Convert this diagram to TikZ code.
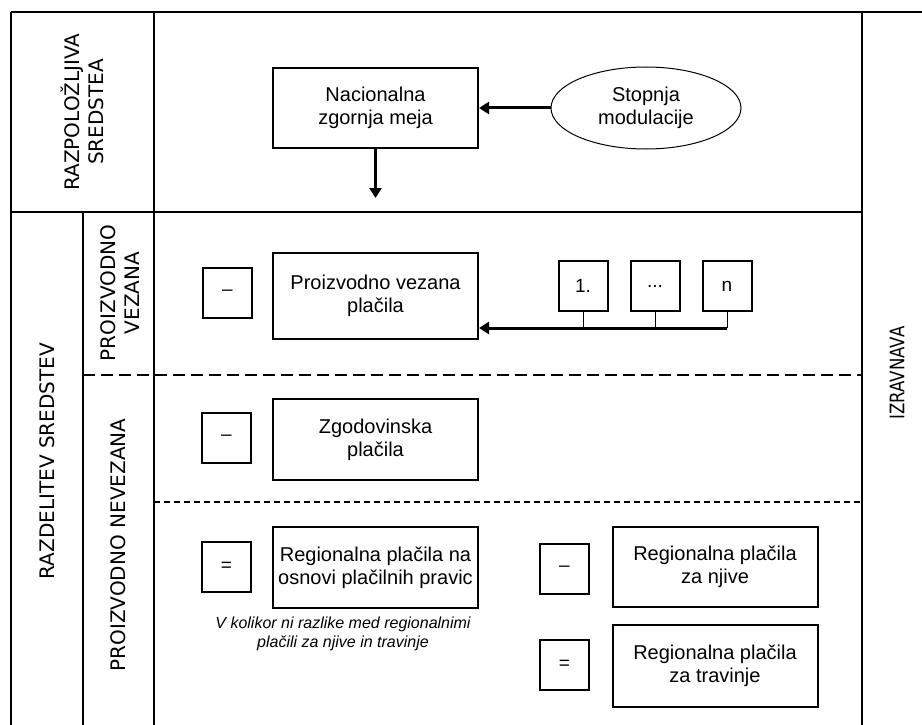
\documentclass[tikz,border=0pt]{standalone}
\usepackage{fontspec}
\setmainfont{Liberation Sans}
\newfontfamily\vertfont{DejaVu Sans}
\newfontfamily\narrowfont{DejaVu Sans}[FakeStretch=0.83]
\usetikzlibrary{arrows.meta,shapes.geometric}

\begin{document}
\begin{tikzpicture}[x=1pt,y=-1pt,node distance=72pt,
    box/.style={draw,line width=2pt,minimum width=205pt,minimum height=81pt,align=center,font=\fontsize{20}{23}\selectfont},
    sign/.style={draw,line width=2pt,minimum width=49pt,minimum height=50pt,inner sep=0pt,font=\fontsize{19}{23}\selectfont},
    side/.style={rotate=90,align=center,font=\vertfont\fontsize{20}{24}\selectfont},
    frame/.style={line width=1.3pt},
    flow/.style={line width=3pt,-{Triangle[length=10pt,width=12pt]}},
    tick/.style={line width=1pt}]
    \useasboundingbox (0,0) rectangle (922,725);

    \draw[frame] (11,12) -- (922,12);
    \draw[frame] (11,12) -- (11,725);
    \draw[frame] (154,12) -- (154,725);
    \draw[frame] (862,12) -- (862,725);
    \draw[frame] (11,212) -- (862,212);
    \draw[frame] (83,212) -- (83,725);
    \draw[line width=2pt,dash pattern=on 12pt off 6pt] (83,375) -- (862,375);
    \draw[line width=1.6pt,dash pattern=on 6pt off 4pt] (154,502) -- (862,502);

    \node[side] (avail) at (82.5,112) {RAZPOLOŽLJIVA\\SREDSTEA};
    \node[side] (distr) at (47,461) {RAZDELITEV SREDSTEV};
    \node[side] (coupled) at (120,293) {PROIZVODNO\\VEZANA};
    \node[side] (decoupled) at (118,545) {PROIZVODNO NEVEZANA};
    \node[side,font=\narrowfont\fontsize{20}{24}\selectfont] (balance) at (897,373) {IZRAVNAVA};

    \node[box,minimum height=80pt] (nzm) at (375.5,108) {Nacionalna\\zgornja meja};
    \node[ellipse,draw,line width=1pt,minimum width=190pt,minimum height=82pt,align=center,font=\fontsize{20}{23}\selectfont] (stop) at (646,108) {Stopnja\\modulacije};
    \coordinate (down) at (375.5,198);
    \draw[flow] (stop) -- (nzm);
    \draw[flow] (nzm) -- (down);

    \node[box,minimum height=86pt] (pvp) at (375.5,296) {Proizvodno vezana\\plačila};
    \node[sign] (minus1) at (227.5,292.5) {–};
    \node[sign] (one) at (583,286) {1.};
    \node[sign,right of=one] (dots) {...};
    \node[sign,right of=dots] (nn) {n};
    \coordinate (bus) at ([yshift=-16pt]nn.south);
    \foreach \s in {one,dots,nn}
        \draw[tick] (\s.south) -- (\s.south |- bus);
    \draw[flow] (bus) -- (bus -| pvp.east);

    \node[box] (zgp) at (375.5,439.5) {Zgodovinska\\plačila};
    \node[sign] (minus2) at (226.5,438) {–};

    \node[sign] (eq1) at (226.5,567) {=};
    \node[box] (rpp) at (375.5,567.5) {Regionalna plačila na\\osnovi plačilnih pravic};
    \node[align=center,font=\fontsize{16}{19}\selectfont\itshape] (note) at (343,634) {V kolikor ni razlike med regionalnimi\\plačili za njive in travinje};
    \node[sign] (minus3) at (564.5,568.5) {–};
    \node[box,minimum height=80pt] (rpn) at (715,567) {Regionalna plačila\\za njive};
    \node[sign] (eq2) at (564.5,665) {=};
    \node[box,minimum height=82pt] (rpt) at (715,666) {Regionalna plačila\\za travinje};
\end{tikzpicture}
\end{document}
